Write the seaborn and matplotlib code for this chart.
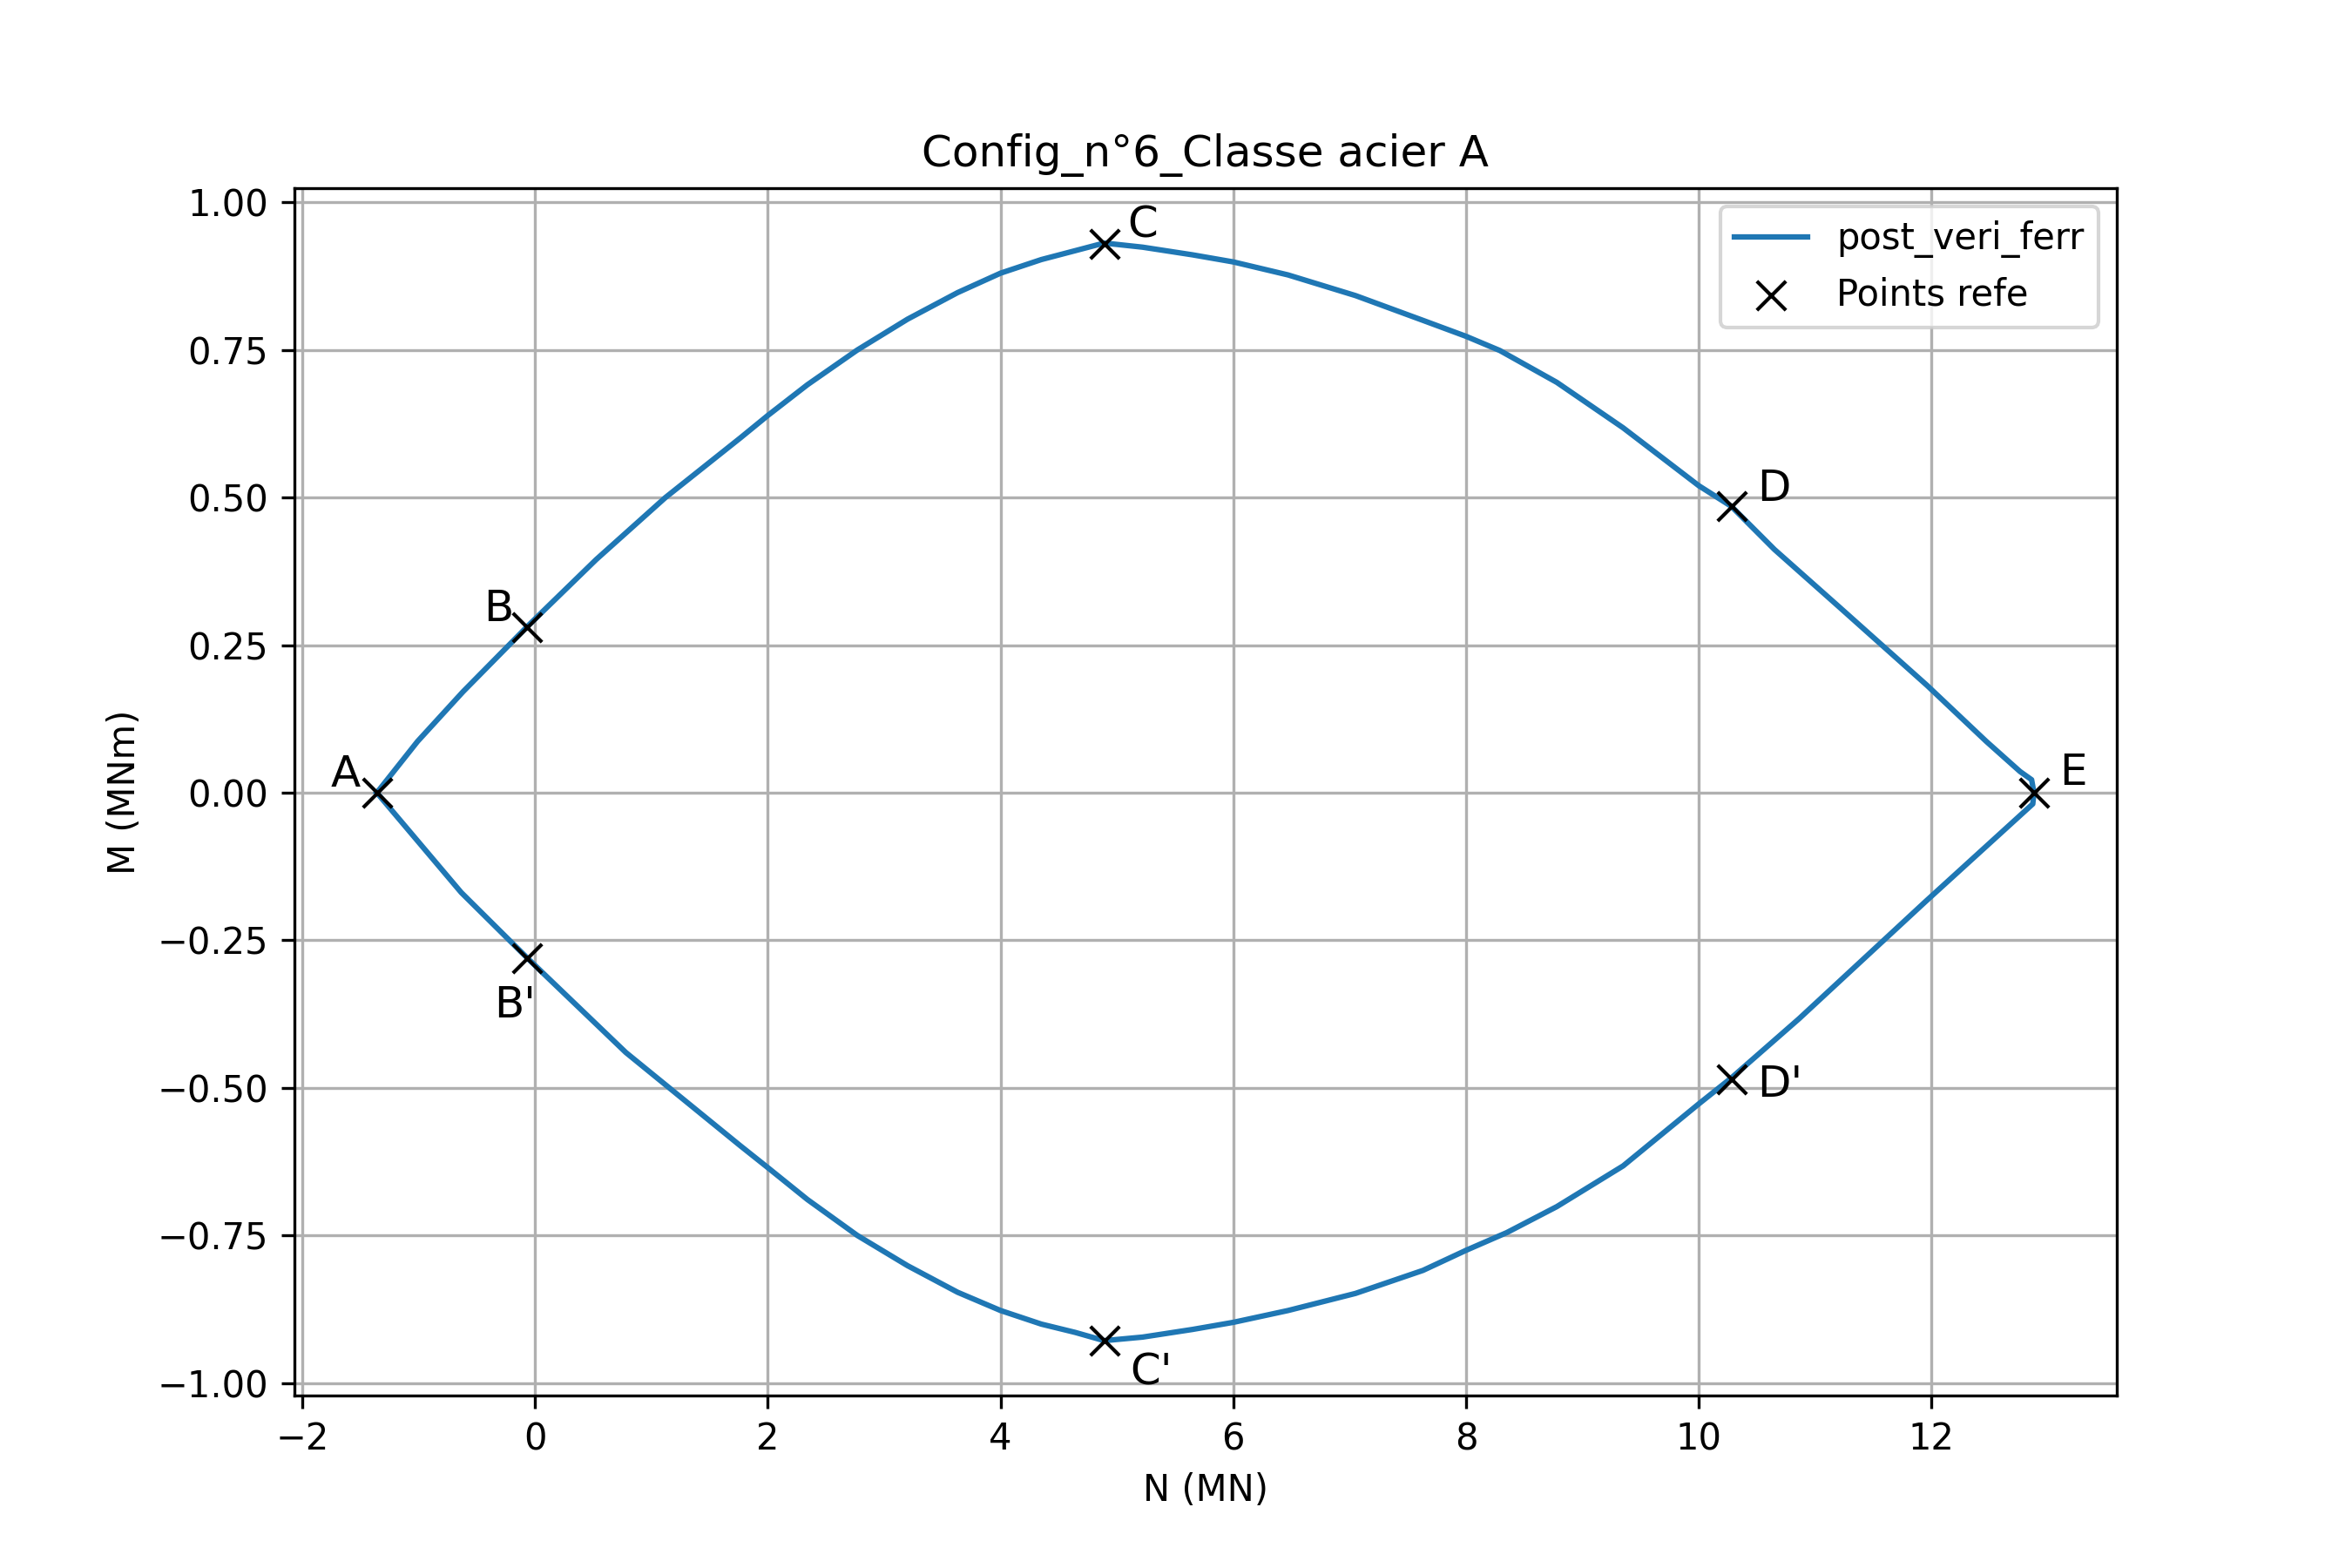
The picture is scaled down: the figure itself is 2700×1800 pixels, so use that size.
import numpy as np
import pandas as pd
import seaborn as sns
import matplotlib
matplotlib.use("Agg")
import matplotlib.pyplot as plt

# interaction curve, upper branch (A -> E) then lower branch (E -> A)
upper_n = [-1.36, -1.01, -0.62, -0.07, 0.525, 1.12, 1.764, 2.0, 2.34, 2.77, 3.20,
           3.63, 4.0, 4.35, 4.64, 4.89, 5.22, 5.65, 6.0, 6.47, 7.05, 7.63, 8.0,
           8.29, 8.78, 9.35, 10.0, 10.28, 10.65, 11.21, 11.96, 12.47, 12.76,
           12.86, 12.88]
upper_m = [0.0, 0.087, 0.171, 0.281, 0.395, 0.5, 0.601, 0.639, 0.691, 0.75, 0.802,
           0.847, 0.880, 0.903, 0.918, 0.931, 0.924, 0.911, 0.899, 0.877, 0.842, 0.80, 0.773,
           0.749, 0.695, 0.618, 0.52, 0.485, 0.412, 0.314, 0.182, 0.087, 0.036,
           0.022, 0.0]
lower_n = [12.88, 12.87, 11.95, 10.86, 10.28, 10.0, 9.35, 8.78, 8.35, 8.0, 7.63,
           7.05, 6.47, 6.0, 5.65, 5.22, 4.89, 4.64, 4.35, 4.0, 3.63, 3.20, 2.77,
           2.34, 2.0, 1.764, 0.78, -0.067, -0.635, -1.36]
lower_m = [0.0, -0.019, -0.184, -0.383, -0.483, -0.527, -0.632, -0.701, -0.745, -0.775, -0.809,
           -0.848, -0.877, -0.897, -0.909, -0.922, -0.928, -0.914, -0.900, -0.877, -0.846, -0.801, -0.75,
           -0.689, -0.635, -0.598, -0.44, -0.280, -0.169, 0.0]

# reference points
pts_labels = ["A", "B", "C", "D", "E", "B'", "C'", "D'"]
pts_n = [-1.36, -0.07, 4.89, 10.28, 12.88, -0.07, 4.89, 10.28]
pts_m = [0.0, 0.281, 0.930, 0.485, 0.0, -0.281, -0.928, -0.485]

curve = pd.DataFrame({"N": upper_n + lower_n, "M": upper_m + lower_m})

fig, ax = plt.subplots(figsize=(9, 6), dpi=300)
sns.lineplot(data=curve, x="N", y="M", sort=False, estimator=None,
             color="#1f77b4", linewidth=1.5, label="post_veri_ferr", ax=ax)
sns.scatterplot(x=pts_n, y=pts_m, marker="x", color="black", s=64,
                linewidth=1, label="Points refe", ax=ax, zorder=3)

# label offsets (text placement relative to each point)
offsets = {"A": (-0.4, 0.01), "B": (-0.37, 0.01), "C": (0.2, 0.01),
           "D": (0.22, 0.01), "E": (0.22, 0.013), "B'": (-0.28, -0.1),
           "C'": (0.22, -0.075), "D'": (0.22, -0.03)}
for lab, n, m in zip(pts_labels, pts_n, pts_m):
    dx, dy = offsets[lab]
    ax.text(n + dx, m + dy, lab, fontsize=12)

ax.set_title("Config_n°6_Classe acier A")
ax.set_xlabel("N (MN)")
ax.set_ylabel("M (MNm)")
ax.grid(True)
ax.legend(loc="upper right")

fig.savefig("out.png", dpi=300)
